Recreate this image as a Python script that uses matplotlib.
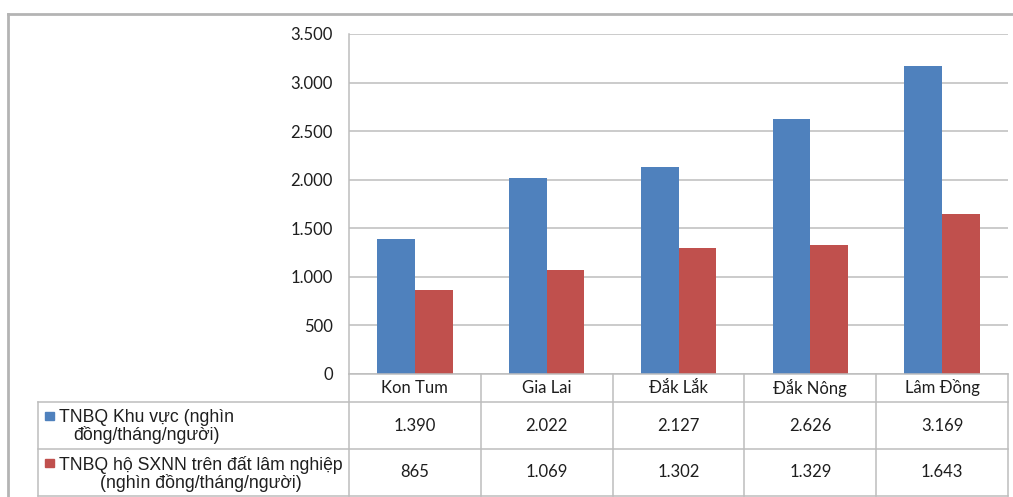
import matplotlib
matplotlib.use("Agg")
import matplotlib.pyplot as plt
import matplotlib.transforms as mtransforms
from matplotlib.lines import Line2D
from matplotlib.patches import Rectangle
import numpy as np

provinces = ["Kon Tum", "Gia Lai", "Đắk Lắk", "Đắk Nông", "Lâm Đồng"]
khu_vuc = [1390, 2022, 2127, 2626, 3169]
ho_sxnn = [865, 1069, 1302, 1329, 1643]
series_names = [
    "TNBQ Khu vực (nghìn\nđồng/tháng/người)",
    "TNBQ hộ SXNN trên đất lâm nghiệp\n(nghìn đồng/tháng/người)",
]
series_colors = ["#4f81bd", "#c0504d"]
y_ticks = [0, 500, 1000, 1500, 2000, 2500, 3000, 3500]

W, H = 1013, 497
GRID = "#bdbdbd"
NUM_FONT = "Lato"
TXT_FONT = "Liberation Sans"
INK = "#1e1e1e"


def fx(px):
    return px / W


def fy(py):
    return 1 - py / H


def fmt(v):
    return f"{v:,}".replace(",", ".")


fig = plt.figure(figsize=(W / 100, H / 100), dpi=100)

# outer chart frame (top and left edges)
fig.add_artist(Line2D([fx(8), 1], [fy(14), fy(14)], color="#b4b4b4", lw=2))
fig.add_artist(Line2D([fx(8), fx(8)], [fy(14), 0], color="#b4b4b4", lw=2))

left, right, top, bottom = 349, 1008, 34, 374
ax = fig.add_axes([fx(left), fy(bottom), (right - left) / W, (bottom - top) / H])

x = np.arange(len(provinces))
bw = 1 / 3.5
ax.bar(x - bw / 2, khu_vuc, width=bw, color=series_colors[0], zorder=3)
ax.bar(x + bw / 2, ho_sxnn, width=bw, color=series_colors[1], zorder=3)

ax.set_xlim(-0.5, len(provinces) - 0.5)
ax.set_ylim(0, 3500)
ax.set_yticks(y_ticks)
ax.set_yticklabels([fmt(v) for v in y_ticks], fontfamily=NUM_FONT, fontsize=12, color=INK)
ax.tick_params(axis="y", length=0, pad=11.5)
ax.set_xticks([])
ax.grid(axis="y", color=GRID, lw=1.1, zorder=0)
for side in ["top", "right", "bottom"]:
    ax.spines[side].set_visible(False)
ax.spines["left"].set_color(GRID)
ax.spines["left"].set_linewidth(1.1)

# data table below the plot area
tr = mtransforms.blended_transform_factory(ax.transData, fig.transFigure)
row_lines = [374, 402, 449, 496]
legend_left = 38
edges = np.arange(len(provinces) + 1) - 0.5

for py in row_lines[1:]:
    fig.add_artist(Line2D([fx(legend_left), fx(right)], [fy(py), fy(py)], color=GRID, lw=1.1))
fig.add_artist(Line2D([fx(left), fx(right)], [fy(374), fy(374)], color=GRID, lw=1.1))
for e in edges:
    fig.add_artist(Line2D([e, e], [fy(374), fy(496)], color=GRID, lw=1.1, transform=tr))
fig.add_artist(Line2D([fx(legend_left)] * 2, [fy(402), fy(496)], color=GRID, lw=1.1))

for i, name in enumerate(provinces):
    fig.text(i, fy(388), name, transform=tr, ha="center", va="center",
             fontfamily=NUM_FONT, fontsize=12, color=INK)
    fig.text(i, fy(426), fmt(khu_vuc[i]), transform=tr, ha="center", va="center",
             fontfamily=NUM_FONT, fontsize=12, color=INK)
    fig.text(i, fy(472), fmt(ho_sxnn[i]), transform=tr, ha="center", va="center",
             fontfamily=NUM_FONT, fontsize=12, color=INK)

for r, (label, color) in enumerate(zip(series_names, series_colors)):
    y0, y1 = row_lines[r + 1], row_lines[r + 2]
    fig.add_artist(Rectangle((fx(45), fy(y0 + 18)), 9 / W, 8 / H, color=color))
    fig.text(fx(59), fy((y0 + y1) / 2 + 1), label, ha="left", va="center",
             multialignment="center", fontfamily=TXT_FONT, fontsize=12.7,
             color=INK, linespacing=1.0)

fig.savefig("out.png", dpi=100)
